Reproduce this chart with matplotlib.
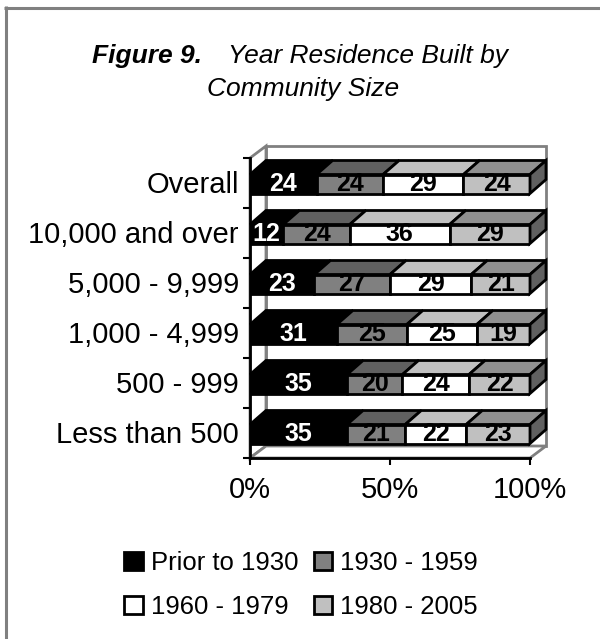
import matplotlib
matplotlib.use('Agg')
import matplotlib.pyplot as plt
from matplotlib.lines import Line2D
from matplotlib.patches import Patch, Polygon, Rectangle

plt.rcParams['font.family'] = ['Liberation Sans', 'DejaVu Sans']

# Values as labelled on the bars (rows add to about 100, chart is 100% stacked)
categories = ['Overall', '10,000 and over', '5,000 - 9,999', '1,000 - 4,999', '500 - 999', 'Less than 500']
prior_1930 = [24, 12, 23, 31, 35, 35]
y1930_1959 = [24, 24, 27, 25, 20, 21]
y1960_1979 = [29, 36, 29, 25, 24, 22]
y1980_2005 = [24, 29, 21, 19, 22, 23]
series_names = ['Prior to 1930', '1930 - 1959', '1960 - 1979', '1980 - 2005']
series_values = [prior_1930, y1930_1959, y1960_1979, y1980_2005]

front_cols = ['#000000', '#808080', '#ffffff', '#c0c0c0']
top_cols = ['#000000', '#606060', '#c0c0c0', '#909090']
side_col = '#606060'
text_cols = ['white', 'black', 'black', 'black']

W, H = 600, 639
fig = plt.figure(figsize=(W / 100, H / 100), dpi=100)
# plot area in pixels: x 250-530, y 158-458
ax = fig.add_axes([250 / W, 1 - 458 / H, 280 / W, 300 / H])
ax.set_xlim(0, 100)
ax.set_ylim(len(categories), 0)

dx = 16 / 2.8      # depth to the right, in x units
dy = 12 / 50       # depth upwards, in y units
bar_h = 0.38
bar_dy = 14 / 50

# back wall, left wall, floor
grey = '#808080'
ax.add_patch(Rectangle((dx, -dy), 100, len(categories), fc='white', ec=grey, lw=2, zorder=1, clip_on=False))
ax.add_patch(Polygon([(0, 0), (dx, -dy), (dx, len(categories) - dy), (0, len(categories))],
                     fc='white', ec=grey, lw=2, zorder=1, clip_on=False))
ax.add_patch(Polygon([(0, len(categories)), (dx, len(categories) - dy),
                      (100 + dx, len(categories) - dy), (100, len(categories))],
                     fc='white', ec=grey, lw=2, zorder=1, clip_on=False))

for i in range(len(categories)):
    row = [s[i] for s in series_values]
    total = sum(row)
    yc = i + 0.5 + 0.02
    top = yc - bar_h / 2
    left = 0
    for j, v in enumerate(row):
        w = v / total * 100
        ax.barh(yc, w, left=left, height=bar_h, color=front_cols[j], edgecolor='black', linewidth=2, zorder=3)
        ax.add_patch(Polygon([(left, top), (left + dx, top - bar_dy), (left + w + dx, top - bar_dy), (left + w, top)],
                             fc=top_cols[j], ec='black', lw=2, zorder=3, clip_on=False))
        ax.text(left + w / 2, yc, str(v), ha='center', va='center', color=text_cols[j],
                fontsize=18, fontweight='bold', zorder=5)
        left += w
    ax.add_patch(Polygon([(100, top), (100 + dx, top - bar_dy), (100 + dx, top + bar_h - bar_dy), (100, top + bar_h)],
                         fc=side_col, ec='black', lw=2, zorder=3, clip_on=False))

ax.set_yticks(range(len(categories) + 1))
ax.set_yticklabels([])
for i, c in enumerate(categories):
    ax.text(-4, i + 0.54, c, ha='right', va='center', fontsize=21)
ax.set_xticks([0, 50, 100])
ax.set_xticklabels(['0%', '50%', '100%'], fontsize=21)
ax.tick_params(axis='both', length=5, width=1.5, color='black', pad=8)
for s in ['top', 'right']:
    ax.spines[s].set_visible(False)
for s in ['left', 'bottom']:
    ax.spines[s].set_linewidth(2)
    ax.spines[s].set_zorder(4)

# title: bold lead-in and italic remainder
fig.text(92 / W, 1 - 56 / H, 'Figure 9.', fontsize=19, fontweight='bold', fontstyle='italic', va='center')
fig.text(228 / W, 1 - 56 / H, 'Year Residence Built by', fontsize=19, fontstyle='italic', va='center')
fig.text(207 / W, 1 - 89 / H, 'Community Size', fontsize=19, fontstyle='italic', va='center')

# legend, filled column by column
order = [0, 2, 1, 3]
handles = [Patch(fc=front_cols[k], ec='black', lw=2, label=series_names[k]) for k in order]
fig.legend(handles=handles, ncol=2, loc='center', bbox_to_anchor=(301 / W, 1 - 585 / H), frameon=False,
           fontsize=18.5, handlelength=0.72, handleheight=0.72, handletextpad=0.3, columnspacing=0.6,
           labelspacing=0.8)

# outer frame: only the top and left edges are drawn
fig.add_artist(Line2D([4 / W, 1], [1 - 7.5 / H, 1 - 7.5 / H], color=grey, lw=2.2, solid_capstyle='butt'))
fig.add_artist(Line2D([5.5 / W, 5.5 / W], [0, 1 - 6 / H], color=grey, lw=2.2, solid_capstyle='butt'))

fig.savefig('out.png', dpi=100)
